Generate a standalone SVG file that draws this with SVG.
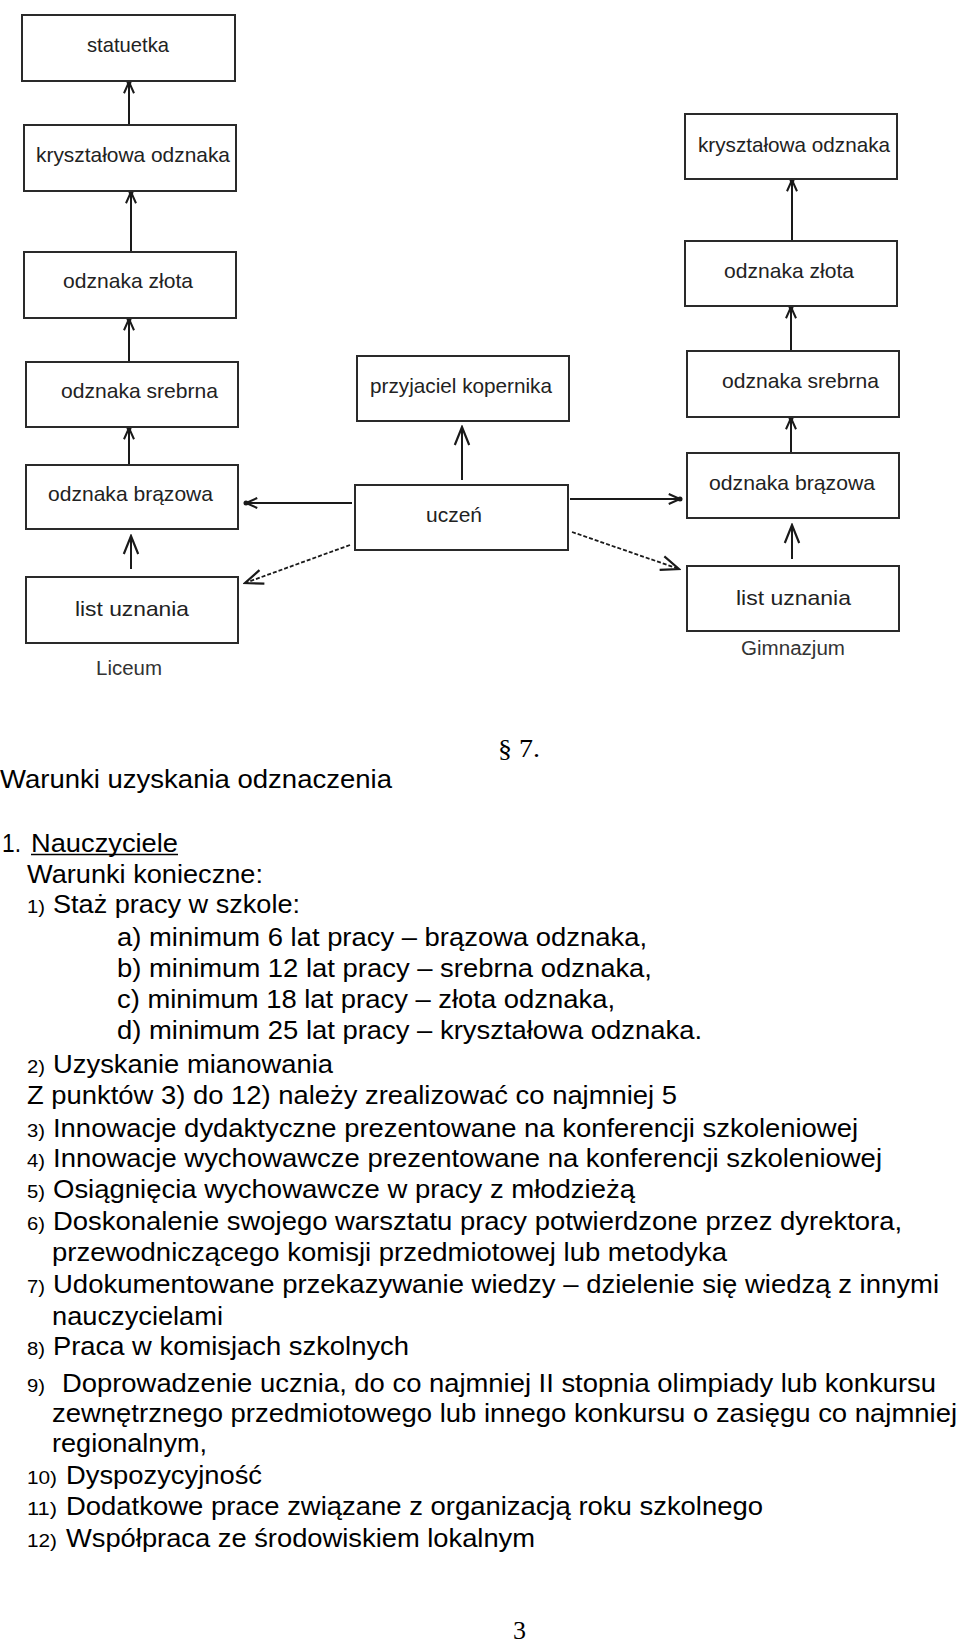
<svg xmlns="http://www.w3.org/2000/svg" width="960" height="1643" viewBox="0 0 960 1643">
<style>
.box{fill:#fff;stroke:#2a2a2a;stroke-width:2}
.bt{font-family:"Liberation Sans","DejaVu Sans",sans-serif;font-size:21px;fill:#222}
.lbl{font-family:"Liberation Sans",Arial,sans-serif;font-size:20px;fill:#333}
.c{stroke:#1a1a1a;stroke-width:2;fill:none}
.d{stroke:#1a1a1a;stroke-width:1.8;fill:none;stroke-dasharray:4 2}
.t{font-family:"Liberation Sans",Arial,sans-serif;font-size:25px;fill:#000}
.n{font-family:"Liberation Sans",Arial,sans-serif;font-size:18px;fill:#000}
.s{font-family:"Liberation Serif","Times New Roman",serif;font-size:25px;fill:#000}
</style>
<defs>
<marker id="ad" markerUnits="userSpaceOnUse" markerWidth="20" markerHeight="20" viewBox="-12 -8 16 16" refX="0" refY="0" orient="auto">
<path d="M-9,-4 L0,0 L-9,4" fill="none" stroke="#1a1a1a" stroke-width="1.6"/>
<circle cx="0" cy="0" r="2" fill="#1a1a1a"/>
</marker>
<marker id="ao" markerUnits="userSpaceOnUse" markerWidth="24" markerHeight="24" viewBox="-18 -10 20 20" refX="0" refY="0" orient="auto">
<path d="M-15,-6 L0,0 L-15,6" fill="none" stroke="#1a1a1a" stroke-width="1.8"/>
</marker>
</defs>
<rect width="960" height="1643" fill="#fff"/>
<g id="connectors">
<line class="c" x1="129" y1="125" x2="129" y2="82" marker-end="url(#ad)"/>
<line class="c" x1="131" y1="252" x2="131" y2="192" marker-end="url(#ad)"/>
<line class="c" x1="129" y1="362" x2="129" y2="319" marker-end="url(#ad)"/>
<line class="c" x1="129" y1="465" x2="129" y2="428" marker-end="url(#ad)"/>
<line class="c" x1="131" y1="569" x2="131" y2="536" marker-end="url(#ao)"/>
<line class="c" x1="792" y1="241" x2="792" y2="180" marker-end="url(#ad)"/>
<line class="c" x1="791" y1="351" x2="791" y2="307" marker-end="url(#ad)"/>
<line class="c" x1="791" y1="453" x2="791" y2="418" marker-end="url(#ad)"/>
<line class="c" x1="792" y1="559" x2="792" y2="525" marker-end="url(#ao)"/>
<line class="c" x1="462" y1="480" x2="462" y2="427" marker-end="url(#ao)"/>
<line class="c" x1="352" y1="503" x2="246" y2="503" marker-end="url(#ad)"/>
<line class="d" x1="350" y1="545" x2="245" y2="583" marker-end="url(#ao)"/>
<line class="c" x1="570" y1="499" x2="680" y2="499" marker-end="url(#ad)"/>
<line class="d" x1="572" y1="532" x2="679" y2="569" marker-end="url(#ao)"/>
</g>
<g id="statuetka"><rect class="box" x="22" y="15" width="213" height="66"/><text class="bt" x="87" y="52" textLength="82" lengthAdjust="spacingAndGlyphs">statuetka</text></g>
<g id="krysztalowa-l"><rect class="box" x="24" y="125" width="212" height="66"/><text class="bt" x="36" y="162" textLength="194" lengthAdjust="spacingAndGlyphs">kryształowa odznaka</text></g>
<g id="zlota-l"><rect class="box" x="24" y="252" width="212" height="66"/><text class="bt" x="63" y="288" textLength="130" lengthAdjust="spacingAndGlyphs">odznaka złota</text></g>
<g id="srebrna-l"><rect class="box" x="26" y="362" width="212" height="65"/><text class="bt" x="61" y="398" textLength="157" lengthAdjust="spacingAndGlyphs">odznaka srebrna</text></g>
<g id="brazowa-l"><rect class="box" x="26" y="465" width="212" height="64"/><text class="bt" x="48" y="501" textLength="165" lengthAdjust="spacingAndGlyphs">odznaka brązowa</text></g>
<g id="list-l"><rect class="box" x="26" y="577" width="212" height="66"/><text class="bt" x="75" y="616" textLength="114" lengthAdjust="spacingAndGlyphs">list uznania</text></g>
<g id="liceum"><text class="lbl" x="96" y="675" textLength="66" lengthAdjust="spacingAndGlyphs">Liceum</text></g>
<g id="przyjaciel"><rect class="box" x="357" y="356" width="212" height="65"/><text class="bt" x="370" y="393" textLength="182" lengthAdjust="spacingAndGlyphs">przyjaciel kopernika</text></g>
<g id="uczen"><rect class="box" x="355" y="485" width="213" height="65"/><text class="bt" x="426" y="522" textLength="56" lengthAdjust="spacingAndGlyphs">uczeń</text></g>
<g id="krysztalowa-r"><rect class="box" x="685" y="114" width="212" height="65"/><text class="bt" x="698" y="152" textLength="192" lengthAdjust="spacingAndGlyphs">kryształowa odznaka</text></g>
<g id="zlota-r"><rect class="box" x="685" y="241" width="212" height="65"/><text class="bt" x="724" y="278" textLength="130" lengthAdjust="spacingAndGlyphs">odznaka złota</text></g>
<g id="srebrna-r"><rect class="box" x="687" y="351" width="212" height="66"/><text class="bt" x="722" y="388" textLength="157" lengthAdjust="spacingAndGlyphs">odznaka srebrna</text></g>
<g id="brazowa-r"><rect class="box" x="687" y="453" width="212" height="65"/><text class="bt" x="709" y="490" textLength="166" lengthAdjust="spacingAndGlyphs">odznaka brązowa</text></g>
<g id="list-r"><rect class="box" x="687" y="566" width="212" height="65"/><text class="bt" x="736" y="605" textLength="115" lengthAdjust="spacingAndGlyphs">list uznania</text></g>
<g id="gimnazjum"><text class="lbl" x="741" y="655" textLength="104" lengthAdjust="spacingAndGlyphs">Gimnazjum</text></g>
<g id="text">
<text class="s" x="498" y="757" textLength="42" lengthAdjust="spacingAndGlyphs">§ 7.</text>
<text class="t" x="0" y="788" textLength="392" lengthAdjust="spacingAndGlyphs">Warunki uzyskania odznaczenia</text>
<text class="t" x="2" y="852" textLength="19" lengthAdjust="spacingAndGlyphs">1.</text>
<text class="t" x="31" y="852" textLength="147" lengthAdjust="spacingAndGlyphs">Nauczyciele</text>
<line x1="31" y1="854.5" x2="178" y2="854.5" stroke="#000" stroke-width="1.6"/>
<text class="t" x="27" y="883" textLength="236" lengthAdjust="spacingAndGlyphs">Warunki konieczne:</text>
<text class="n" x="27" y="913" textLength="18" lengthAdjust="spacingAndGlyphs">1)</text>
<text class="t" x="53" y="913" textLength="247" lengthAdjust="spacingAndGlyphs">Staż pracy w szkole:</text>
<text class="t" x="117" y="946" textLength="530" lengthAdjust="spacingAndGlyphs">a) minimum 6 lat pracy – brązowa odznaka,</text>
<text class="t" x="117" y="977" textLength="535" lengthAdjust="spacingAndGlyphs">b) minimum 12 lat pracy – srebrna odznaka,</text>
<text class="t" x="117" y="1008" textLength="498" lengthAdjust="spacingAndGlyphs">c) minimum 18 lat pracy – złota odznaka,</text>
<text class="t" x="117" y="1039" textLength="585" lengthAdjust="spacingAndGlyphs">d) minimum 25 lat pracy – kryształowa odznaka.</text>
<text class="n" x="27" y="1073" textLength="18" lengthAdjust="spacingAndGlyphs">2)</text>
<text class="t" x="53" y="1073" textLength="280" lengthAdjust="spacingAndGlyphs">Uzyskanie mianowania</text>
<text class="t" x="27" y="1104" textLength="650" lengthAdjust="spacingAndGlyphs">Z punktów 3) do 12) należy zrealizować co najmniej 5</text>
<text class="n" x="27" y="1137" textLength="18" lengthAdjust="spacingAndGlyphs">3)</text>
<text class="t" x="53" y="1137" textLength="805" lengthAdjust="spacingAndGlyphs">Innowacje dydaktyczne prezentowane na konferencji szkoleniowej</text>
<text class="n" x="27" y="1167" textLength="18" lengthAdjust="spacingAndGlyphs">4)</text>
<text class="t" x="53" y="1167" textLength="829" lengthAdjust="spacingAndGlyphs">Innowacje wychowawcze prezentowane na konferencji szkoleniowej</text>
<text class="n" x="27" y="1198" textLength="18" lengthAdjust="spacingAndGlyphs">5)</text>
<text class="t" x="53" y="1198" textLength="582" lengthAdjust="spacingAndGlyphs">Osiągnięcia wychowawcze w pracy z młodzieżą</text>
<text class="n" x="27" y="1230" textLength="18" lengthAdjust="spacingAndGlyphs">6)</text>
<text class="t" x="53" y="1230" textLength="849" lengthAdjust="spacingAndGlyphs">Doskonalenie swojego warsztatu pracy potwierdzone przez dyrektora,</text>
<text class="t" x="52" y="1261" textLength="675" lengthAdjust="spacingAndGlyphs">przewodniczącego komisji przedmiotowej lub metodyka</text>
<text class="n" x="27" y="1293" textLength="18" lengthAdjust="spacingAndGlyphs">7)</text>
<text class="t" x="53" y="1293" textLength="886" lengthAdjust="spacingAndGlyphs">Udokumentowane przekazywanie wiedzy – dzielenie się wiedzą z innymi</text>
<text class="t" x="52" y="1325" textLength="171" lengthAdjust="spacingAndGlyphs">nauczycielami</text>
<text class="n" x="27" y="1355" textLength="18" lengthAdjust="spacingAndGlyphs">8)</text>
<text class="t" x="53" y="1355" textLength="356" lengthAdjust="spacingAndGlyphs">Praca w komisjach szkolnych</text>
<text class="n" x="27" y="1392" textLength="18" lengthAdjust="spacingAndGlyphs">9)</text>
<text class="t" x="62" y="1392" textLength="874" lengthAdjust="spacingAndGlyphs">Doprowadzenie ucznia, do co najmniej II stopnia olimpiady lub konkursu</text>
<text class="t" x="52" y="1422" textLength="905" lengthAdjust="spacingAndGlyphs">zewnętrznego przedmiotowego lub innego konkursu o zasięgu co najmniej</text>
<text class="t" x="52" y="1452" textLength="155" lengthAdjust="spacingAndGlyphs">regionalnym,</text>
<text class="n" x="27" y="1484" textLength="30" lengthAdjust="spacingAndGlyphs">10)</text>
<text class="t" x="66" y="1484" textLength="196" lengthAdjust="spacingAndGlyphs">Dyspozycyjność</text>
<text class="n" x="27" y="1515" textLength="30" lengthAdjust="spacingAndGlyphs">11)</text>
<text class="t" x="66" y="1515" textLength="697" lengthAdjust="spacingAndGlyphs">Dodatkowe prace związane z organizacją roku szkolnego</text>
<text class="n" x="27" y="1547" textLength="30" lengthAdjust="spacingAndGlyphs">12)</text>
<text class="t" x="66" y="1547" textLength="469" lengthAdjust="spacingAndGlyphs">Współpraca ze środowiskiem lokalnym</text>
<text class="s" x="513" y="1639" font-size="22" textLength="13" lengthAdjust="spacingAndGlyphs">3</text>
</g>
</svg>
